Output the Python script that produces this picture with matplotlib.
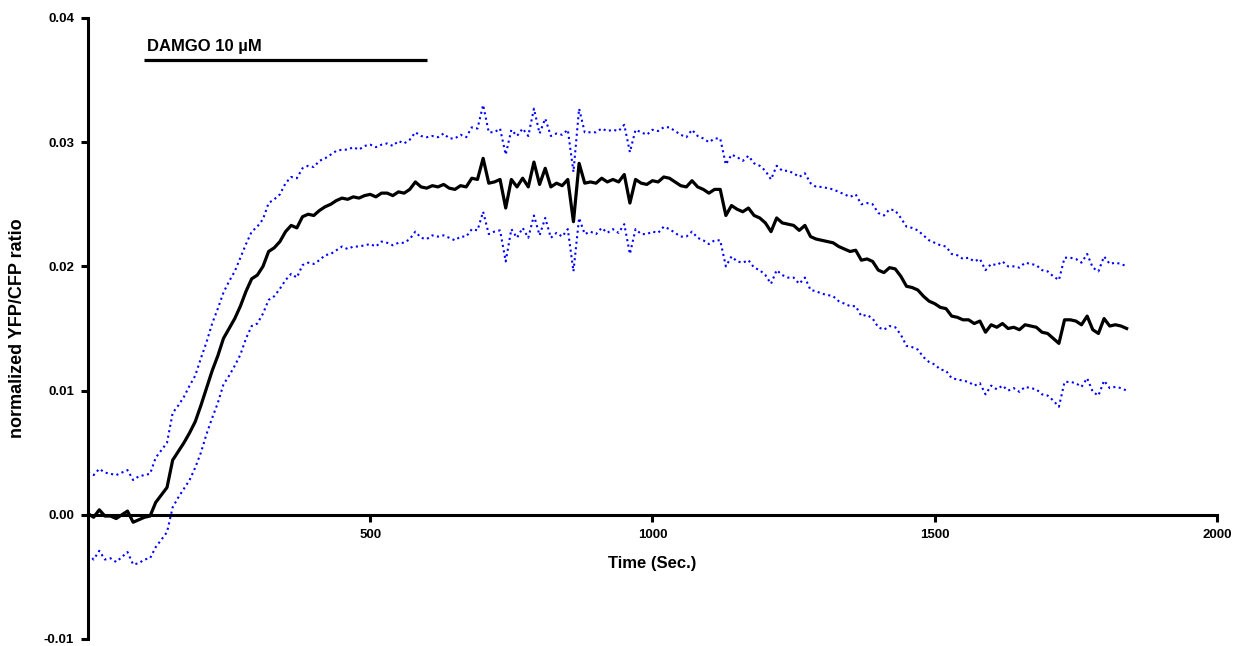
import numpy as np
import matplotlib
matplotlib.use("Agg")
import matplotlib.pyplot as plt

# ---- data (sampled every 10 s) ----
time_s = np.arange(0, 1850, 10)

mean_ratio = [
    0.0001, -0.0002, 0.0004, -0.0001, -0.0001, -0.0003, 0.0000, 0.0003, -0.0006, -0.0004,
    -0.0002, -0.0001, 0.0010, 0.0016, 0.0022, 0.0044, 0.0051, 0.0058, 0.0066, 0.0075,
    0.0088, 0.0102, 0.0116, 0.0128, 0.0142, 0.0150, 0.0158, 0.0168, 0.0180, 0.0190,
    0.0193, 0.0200, 0.0212, 0.0215, 0.0220, 0.0228, 0.0233, 0.0231, 0.0240, 0.0242,
    0.0241, 0.0245, 0.0248, 0.0250, 0.0253, 0.0255, 0.0254, 0.0256, 0.0255, 0.0257,
    0.0258, 0.0256, 0.0259, 0.0259, 0.0257, 0.0260, 0.0259, 0.0262, 0.0268, 0.0264,
    0.0263, 0.0265, 0.0264, 0.0266, 0.0263, 0.0262, 0.0265, 0.0264, 0.0271, 0.0270,
    0.0287, 0.0267, 0.0268, 0.0270, 0.0247, 0.0270, 0.0264, 0.0271, 0.0264, 0.0284,
    0.0266, 0.0279, 0.0264, 0.0267, 0.0265, 0.0270, 0.0236, 0.0283, 0.0267, 0.0268,
    0.0267, 0.0271, 0.0268, 0.0270, 0.0268, 0.0274, 0.0251, 0.0270, 0.0267, 0.0266,
    0.0269, 0.0268, 0.0272, 0.0271, 0.0268, 0.0265, 0.0264, 0.0269, 0.0264, 0.0262,
    0.0259, 0.0262, 0.0262, 0.0241, 0.0249, 0.0246, 0.0244, 0.0247, 0.0241, 0.0239,
    0.0235, 0.0228, 0.0239, 0.0235, 0.0234, 0.0233, 0.0229, 0.0233, 0.0224, 0.0222,
    0.0221, 0.0220, 0.0219, 0.0216, 0.0214, 0.0212, 0.0213, 0.0205, 0.0206, 0.0204,
    0.0197, 0.0195, 0.0199, 0.0198, 0.0192, 0.0184, 0.0183, 0.0181, 0.0176, 0.0172,
    0.0170, 0.0167, 0.0166, 0.0160, 0.0159, 0.0157, 0.0157, 0.0154, 0.0156, 0.0147,
    0.0153, 0.0151, 0.0154, 0.0150, 0.0151, 0.0149, 0.0153, 0.0152, 0.0151, 0.0147,
    0.0146, 0.0142, 0.0138, 0.0157, 0.0157, 0.0156, 0.0153, 0.0160, 0.0149, 0.0146,
    0.0158, 0.0152, 0.0153, 0.0152, 0.0150,
]

error_ratio = [
    0.0033, 0.0034, 0.0033, 0.0035, 0.0034, 0.0035, 0.0034, 0.0033, 0.0034, 0.0035,
    0.0034, 0.0034, 0.0036, 0.0036, 0.0036, 0.0038, 0.0037, 0.0037, 0.0038, 0.0037,
    0.0038, 0.0037, 0.0038, 0.0038, 0.0037, 0.0038, 0.0038, 0.0039, 0.0038, 0.0038,
    0.0039, 0.0038, 0.0039, 0.0039, 0.0038, 0.0039, 0.0039, 0.0040, 0.0039, 0.0039,
    0.0039, 0.0040, 0.0039, 0.0040, 0.0040, 0.0039, 0.0040, 0.0040, 0.0039, 0.0040,
    0.0040, 0.0040, 0.0039, 0.0040, 0.0040, 0.0041, 0.0040, 0.0040, 0.0040, 0.0041,
    0.0041, 0.0040, 0.0040, 0.0041, 0.0040, 0.0041, 0.0041, 0.0040, 0.0041, 0.0041,
    0.0043, 0.0041, 0.0040, 0.0041, 0.0043, 0.0040, 0.0041, 0.0040, 0.0041, 0.0043,
    0.0041, 0.0040, 0.0041, 0.0040, 0.0041, 0.0040, 0.0040, 0.0044, 0.0041, 0.0040,
    0.0041, 0.0040, 0.0041, 0.0040, 0.0041, 0.0040, 0.0041, 0.0040, 0.0041, 0.0040,
    0.0041, 0.0041, 0.0040, 0.0041, 0.0041, 0.0041, 0.0040, 0.0041, 0.0041, 0.0041,
    0.0041, 0.0041, 0.0041, 0.0041, 0.0041, 0.0042, 0.0041, 0.0042, 0.0042, 0.0042,
    0.0042, 0.0042, 0.0042, 0.0042, 0.0043, 0.0042, 0.0043, 0.0042, 0.0043, 0.0042,
    0.0043, 0.0043, 0.0043, 0.0044, 0.0044, 0.0044, 0.0045, 0.0045, 0.0045, 0.0046,
    0.0046, 0.0046, 0.0047, 0.0047, 0.0047, 0.0048, 0.0048, 0.0048, 0.0049, 0.0049,
    0.0049, 0.0050, 0.0050, 0.0050, 0.0050, 0.0049, 0.0050, 0.0050, 0.0050, 0.0050,
    0.0049, 0.0050, 0.0050, 0.0050, 0.0049, 0.0050, 0.0050, 0.0050, 0.0050, 0.0050,
    0.0050, 0.0050, 0.0051, 0.0050, 0.0050, 0.0050, 0.0050, 0.0050, 0.0050, 0.0050,
    0.0050, 0.0050, 0.0050, 0.0050, 0.0050,
]

x_ticks = [500, 1000, 1500, 2000]
y_ticks = [-0.01, 0.00, 0.01, 0.02, 0.03, 0.04]
y_tick_labels = ["-0.01", "0.00", "0.01", "0.02", "0.03", "0.04"]
damgo_start, damgo_end = 100, 600
damgo_label = "DAMGO 10 µM"

mean_arr = np.array(mean_ratio)
err_arr = np.array(error_ratio)

plt.rcParams['font.family'] = ['Liberation Sans', 'DejaVu Sans']
plt.rcParams['font.weight'] = 'bold'

fig = plt.figure(figsize=(12.34, 6.46), dpi=100)
ax = fig.add_axes([0.0713, 0.01084, 0.9149, 0.9613])

ax.plot(time_s, mean_arr + err_arr, color='#0000ff', lw=1.5, ls=':')
ax.plot(time_s, mean_arr - err_arr, color='#0000ff', lw=1.5, ls=':')
ax.plot(time_s, mean_arr, color='black', lw=2.3)

# DAMGO application bar
bar_y = 0.0366
ax.plot([damgo_start, damgo_end], [bar_y, bar_y], color='black', lw=2.3,
        solid_capstyle='butt')
ax.text(damgo_start + 5, 0.0377, damgo_label, fontsize=12, fontweight='bold',
        ha='left', va='center')

ax.set_xlim(0, 2000)
ax.set_ylim(-0.01, 0.04)

for s in ['top', 'right']:
    ax.spines[s].set_visible(False)
ax.spines['bottom'].set_position(('data', 0))
ax.spines['left'].set_linewidth(2.2)
ax.spines['bottom'].set_linewidth(2.2)

ax.set_xticks(x_ticks)
ax.set_xticklabels([str(v) for v in x_ticks], fontsize=9.5, fontweight='bold')
ax.set_yticks(y_ticks)
ax.set_yticklabels(y_tick_labels, fontsize=9.5, fontweight='bold')
ax.tick_params(axis='both', direction='out', length=5, width=2.2, pad=5)

ax.set_xlabel("Time (Sec.)", fontsize=12, fontweight='bold')
ax.xaxis.set_label_coords(0.5, 0.122)
ax.xaxis.label.set_va('center')
ax.set_ylabel("normalized YFP/CFP ratio", fontsize=13, fontweight='bold')
ax.yaxis.set_label_coords(-0.062, 0.5)
ax.yaxis.label.set_va('center')

fig.savefig("out.png", dpi=100)
